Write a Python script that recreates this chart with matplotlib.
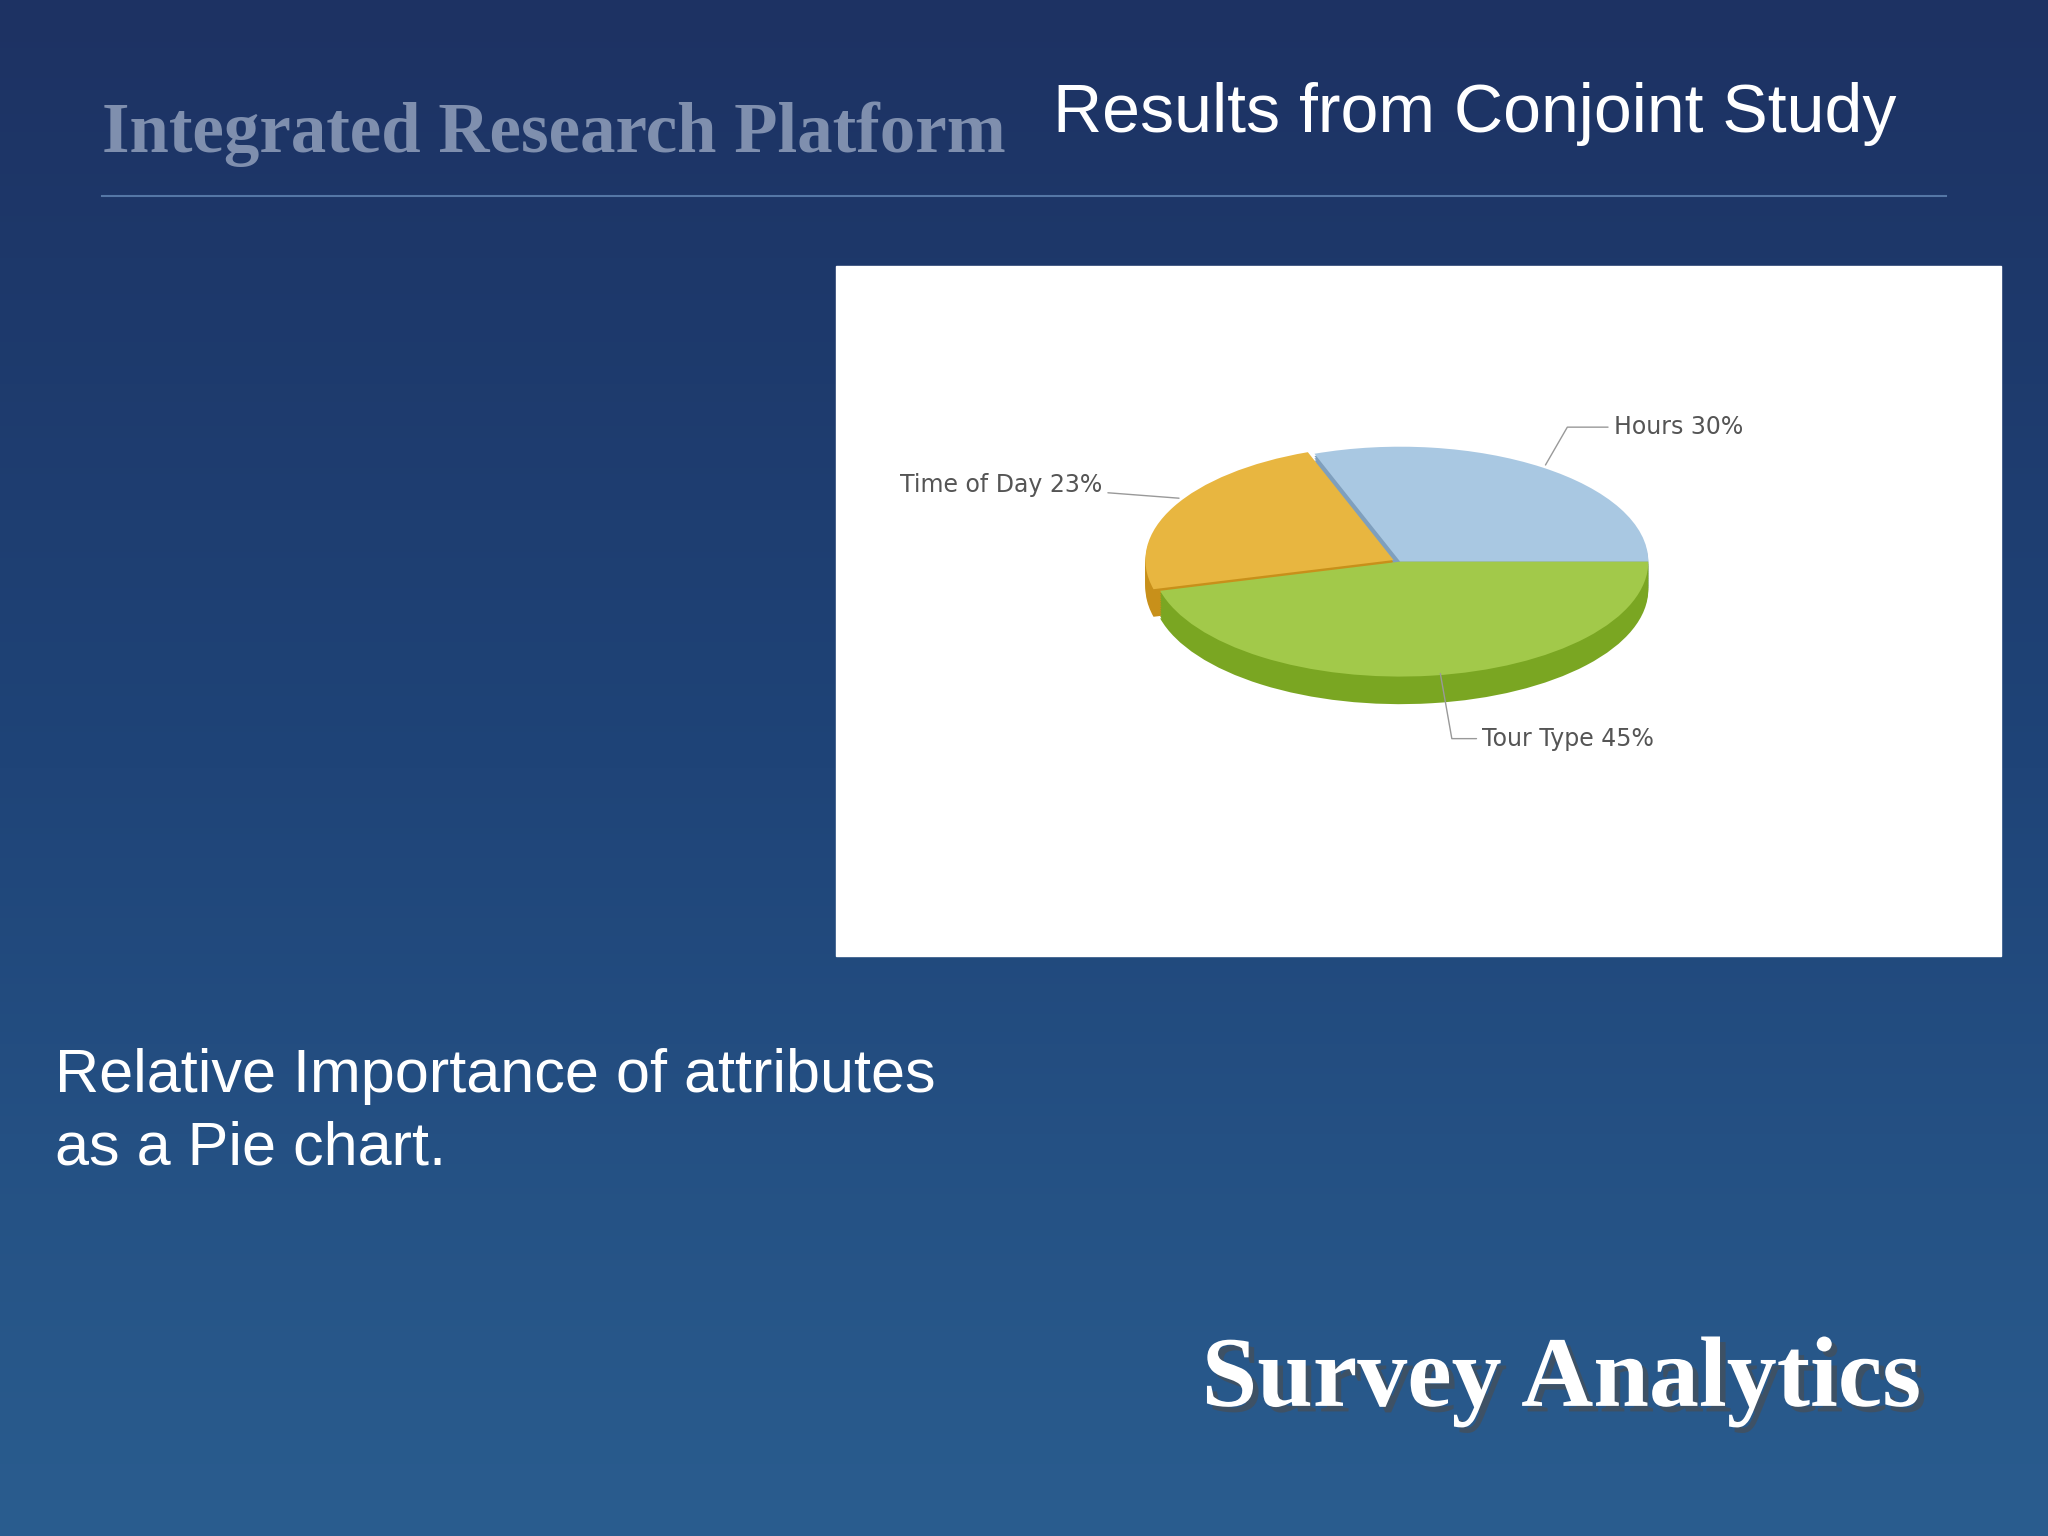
import numpy as np
import matplotlib
matplotlib.use("Agg")
import matplotlib.pyplot as plt
import matplotlib.patheffects as pe
from matplotlib.colors import LinearSegmentedColormap

labels = ["Hours", "Time of Day", "Tour Type"]
values = [30, 23, 45]
colors_top = ["#a9c8e2", "#e8b640", "#a2c94a"]
colors_side = ["#7f9fbd", "#c8901a", "#7aa622"]
explode = [0, 0.03, 0]

W, H = 1568, 1176
fig = plt.figure(figsize=(20.48, 15.36), dpi=100)
bg = fig.add_axes([0, 0, 1, 1])
grad = np.linspace(0, 1, 256)[:, None]
cmap = LinearSegmentedColormap.from_list("bg", ["#1d3263", "#1f4478", "#2a5d8f"])
bg.imshow(grad, aspect="auto", cmap=cmap, extent=[0, W, H, 0])
bg.set_xlim(0, W); bg.set_ylim(H, 0); bg.axis("off")

bg.text(78, 103, "Integrated Research Platform", family="Liberation Serif",
        fontsize=51, fontweight="bold", color="#7f8fae", va="center", ha="left")
bg.text(806, 87, "Results from Conjoint Study", family="Liberation Sans",
        fontsize=49, color="white", va="center", ha="left")
bg.plot([78, 1490], [150, 150], color="#5577a6", lw=1.5)
bg.add_patch(plt.Rectangle((640, 204), 892, 528, color="white", zorder=2))
bg.text(42, 824, "Relative Importance of attributes", family="Liberation Sans",
        fontsize=44, color="white", va="center")
bg.text(42, 880, "as a Pie chart.", family="Liberation Sans",
        fontsize=44, color="white", va="center")
bg.text(920, 1058, "Survey Analytics", family="Liberation Serif", fontsize=72,
        fontweight="bold", color="white", va="center", ha="left",
        path_effects=[pe.withSimplePatchShadow(offset=(4, -4), alpha=0.6)])

cx, cy, rx, ry, k = 1072, 430, 190, 88, 1.7
ax = fig.add_axes([(cx - rx * k) / W, 1 - (cy + ry * k) / H, 2 * rx * k / W, 2 * ry * k / H])
depth = 0.24
for off in np.linspace(depth, 0.02, 12):
    ax.pie(values, colors=colors_side, startangle=0, counterclock=True,
           explode=explode, center=(0, -off), wedgeprops=dict(linewidth=0))
ax.pie(values, colors=colors_top, startangle=0, counterclock=True,
       explode=explode, wedgeprops=dict(linewidth=0))
ax.set_aspect("auto")
ax.set_xlim(-k, k); ax.set_ylim(-k, k); ax.axis("off")

tc = "#555555"
ax.annotate(f"{labels[0]} {values[0]}%", xy=(0.58, 0.82), xytext=(0.86, 1.17),
            fontsize=17, color=tc, va="center", ha="left",
            arrowprops=dict(arrowstyle="-", color="#999999", connectionstyle="angle,angleA=0,angleB=60"))
ax.annotate(f"{labels[1]} {values[1]}%", xy=(-0.88, 0.55), xytext=(-1.2, 0.67),
            fontsize=17, color=tc, va="center", ha="right",
            arrowprops=dict(arrowstyle="-", color="#999999"))
ax.annotate(f"{labels[2]} {values[2]}%", xy=(0.16, -0.95), xytext=(0.33, -1.54),
            fontsize=17, color=tc, va="center", ha="left",
            arrowprops=dict(arrowstyle="-", color="#999999", connectionstyle="angle,angleA=0,angleB=-80"))

fig.savefig("out.png", dpi=100)
